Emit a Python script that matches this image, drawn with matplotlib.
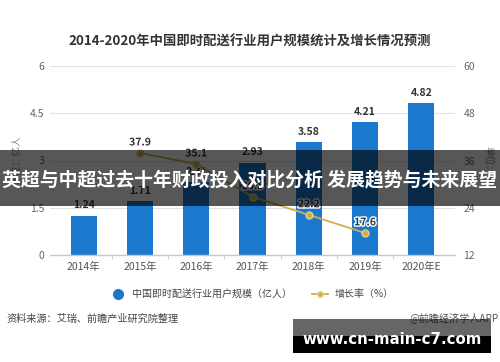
import matplotlib
matplotlib.use("Agg")
import matplotlib.pyplot as plt
import matplotlib.patheffects as pe
from matplotlib.patches import Rectangle
from matplotlib.lines import Line2D

plt.rcParams['font.family'] = ['Noto Sans CJK SC', 'DejaVu Sans']

categories = ["2014年", "2015年", "2016年", "2017年", "2018年", "2019年", "2020年E"]
users = [1.24, 1.71, 2.31, 2.93, 3.58, 4.21, 4.82]
growth_years = [1, 2, 3, 4, 5]
growth = [37.9, 35.1, 26.8, 22.2, 17.6]
left_ticks = [0, 1.5, 3, 4.5, 6]
left_tick_labels = ["0", "1.5", "3", "4.5", "6"]
right_ticks = [12, 24, 36, 48, 60]

title = "2014-2020年中国即时配送行业用户规模统计及增长情况预测"
legend_labels = ["中国即时配送行业用户规模（亿人）", "增长率（%）"]
source = "资料来源：艾瑞、前瞻产业研究院整理"
credit = "@前瞻经济学人APP"
banner = "英超与中超过去十年财政投入对比分析 发展趋势与未来展望"
site = "www.cn-main-c7.com"

W, H = 500, 362
fig = plt.figure(figsize=(W / 100, H / 100), dpi=100)
fig.patch.set_facecolor("white")

def fx(px): return px / W
def fy(py): return 1 - py / H

ax = fig.add_axes([fx(50), fy(255), fx(455) - fx(50), fy(66) - fy(255)])
bar_color = "#1a79cc"
line_color = "#d2ad4e"

x = list(range(len(categories)))
ax.bar(x, users, width=0.47, color=bar_color, zorder=2)
ax.set_xlim(-0.6, 6.6)
ax.set_ylim(0, 6)
ax.set_yticks(left_ticks)
ax.set_yticklabels(left_tick_labels)
ax.grid(axis="y", color="#e2e2e2", linewidth=0.8, zorder=0)
ax.set_axisbelow(True)
for s in ["top", "right", "left"]:
    ax.spines[s].set_visible(False)
ax.spines["bottom"].set_color("#c8c8c8")
ax.spines["bottom"].set_linewidth(1.0)
ax.set_xticks(x)
ax.set_xticklabels(categories)
ax.tick_params(axis="x", length=0, pad=5, labelsize=7.5, labelcolor="#555555")
ax.set_xticks([i + 0.5 for i in x[:-1]], minor=True)
ax.tick_params(axis="x", which="minor", length=3, color="#c8c8c8")
ax.tick_params(axis="y", length=0, pad=4, labelsize=7.5, labelcolor="#666666")

for xi, v in zip(x, users):
    ax.annotate(f"{v:.2f}", (xi, v), xytext=(0, 4), textcoords="offset points",
                ha="center", va="bottom", fontsize=7.5, fontweight="bold", color="#333333")

ax2 = ax.twinx()
ax2.set_ylim(12, 60)
ax2.set_yticks(right_ticks)
for s in ["top", "right", "left", "bottom"]:
    ax2.spines[s].set_visible(False)
ax2.tick_params(axis="y", length=0, pad=6, labelsize=7.5, labelcolor="#666666")
ax2.plot(growth_years, growth, color=line_color, linewidth=1.3, marker="o",
         markersize=5, markerfacecolor=line_color, markeredgecolor="#e8cf8a", zorder=3)
for xi, v in zip(growth_years, growth):
    ax2.annotate(f"{v:.1f}", (xi, v), xytext=(0, 4), textcoords="offset points",
                 ha="center", va="bottom", fontsize=7.5, fontweight="bold", color="#333333",
                 path_effects=[pe.withStroke(linewidth=2, foreground="white")])

fig.text(fx(16), fy(160), "单位：亿人", rotation=90, ha="center", va="center",
         fontsize=7, color="#888888")
fig.text(fx(488), fy(165), "单位：%", rotation=-90, ha="center", va="center",
         fontsize=7, color="#888888")

fig.text(0.5, fy(42), title, ha="center", va="center", fontsize=9.6,
         fontweight="bold", color="#333333")

handles = [Line2D([], [], marker="o", color="none", markerfacecolor=bar_color,
                  markeredgecolor=bar_color, markersize=7),
           Line2D([], [], marker="o", color=line_color, markerfacecolor=line_color,
                  markeredgecolor="#e8cf8a", markersize=4, linewidth=1.3)]
fig.legend(handles, legend_labels, loc="center", bbox_to_anchor=(fx(252), fy(294)),
           ncol=2, frameon=False, fontsize=7.2, handlelength=1.6, handletextpad=0.6,
           columnspacing=2.0, labelcolor="#444444")

fig.text(fx(6), fy(319), source, ha="left", va="center", fontsize=7.3, color="#444444")
fig.text(fx(499), fy(318), credit, ha="right", va="center", fontsize=7.3, color="#555555")

# banner overlay
fig.patches.append(Rectangle((0, fy(206)), 1, fy(150) - fy(206), transform=fig.transFigure,
                             facecolor="#000000", alpha=0.66, edgecolor="none", zorder=10))
fig.text(0.5, fy(180), banner, ha="center", va="center", fontsize=13.6, fontweight="bold",
         color="white", zorder=11)

# site box
fig.patches.append(Rectangle((fx(293), fy(353)), fx(491) - fx(293), fy(336) - fy(353),
                             transform=fig.transFigure, facecolor="black", edgecolor="none", zorder=10))
fig.patches.append(Rectangle((fx(293), fy(336)), fx(491) - fx(293), fy(319) - fy(336),
                             transform=fig.transFigure, facecolor="black", alpha=0.6,
                             edgecolor="none", zorder=10))
fig.text(fx(392), fy(340), site, ha="center", va="center", fontsize=10.8, fontweight="bold",
         color="white", family=["DejaVu Sans"], zorder=11)

fig.savefig("out.png", dpi=100)
